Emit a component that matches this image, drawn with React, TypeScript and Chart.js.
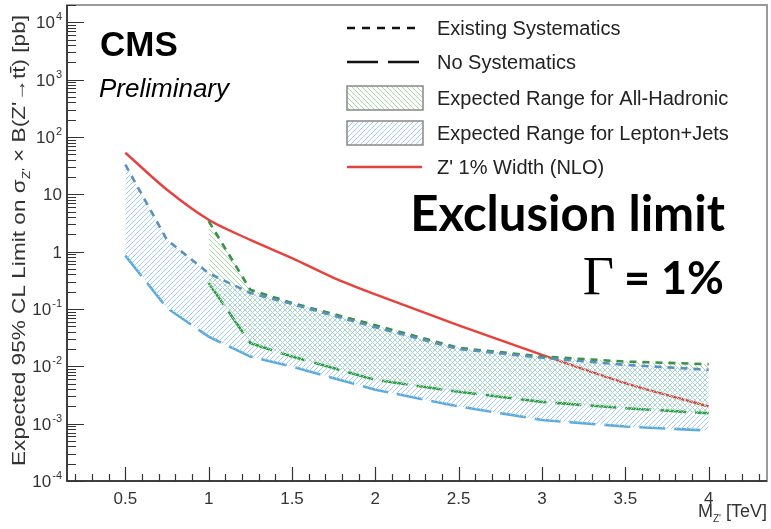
import { useEffect, useRef } from 'react';
import { Chart, registerables } from 'chart.js';
Chart.register(...registerables);

// ---- data ----
const massLJ = [0.5, 0.75, 1, 1.25, 1.5, 2, 2.5, 3, 3.5, 4];
const ljExisting = [33, 1.6, 0.42, 0.19, 0.122, 0.048, 0.020, 0.0141, 0.0106, 0.0087];
const ljNoSyst = [0.85, 0.104, 0.033, 0.0148, 0.0099, 0.0039, 0.0020, 0.00116, 0.00089, 0.00076];

const massAH = [1, 1.25, 1.5, 2, 2.5, 3, 3.5, 4];
const ahExisting = [3.4, 0.216, 0.127, 0.052, 0.021, 0.0148, 0.0121, 0.0109];
const ahNoSyst = [0.283, 0.0254, 0.0148, 0.0058, 0.0036, 0.0024, 0.00186, 0.00152];

const massZ = [0.5, 0.75, 1, 1.25, 1.5, 1.75, 2, 2.5, 3, 3.5, 4];
const zprimeXsec = [53, 12, 3.6, 1.6, 0.77, 0.35, 0.18, 0.052, 0.0159, 0.0051, 0.0020];

const yTickExponents = [-4, -3, -2, -1, 0, 1, 2, 3, 4];
const xTicks = [0.5, 1, 1.5, 2, 2.5, 3, 3.5, 4];
const xTickLabels = ['0.5', '1', '1.5', '2', '2.5', '3', '3.5', '4'];

const legendLabels = [
  'Existing Systematics',
  'No Systematics',
  'Expected Range for All-Hadronic',
  'Expected Range for Lepton+Jets',
  "Z' 1% Width (NLO)",
];

const SANS = "'Liberation Sans', Arial, sans-serif";

function hatch(color: string, dir: number) {
  const s = 5;
  const c = document.createElement('canvas');
  c.width = s; c.height = s;
  const g = c.getContext('2d')!;
  g.strokeStyle = color; g.lineWidth = 1;
  g.beginPath();
  if (dir > 0) {
    g.moveTo(0, s); g.lineTo(s, 0);
    g.moveTo(-1, 1); g.lineTo(1, -1);
    g.moveTo(s - 1, s + 1); g.lineTo(s + 1, s - 1);
  } else {
    g.moveTo(0, 0); g.lineTo(s, s);
    g.moveTo(s - 1, -1); g.lineTo(s + 1, 1);
    g.moveTo(-1, s - 1); g.lineTo(1, s + 1);
  }
  g.stroke();
  return g.createPattern(c, 'repeat')!;
}

const COL = {
  red: '#e8413c',
  blueShort: '#5b8fc0',
  blueLong: '#5aaade',
  greenShort: '#3a9048',
  greenLong: '#2e9f34',
  blueHatch: '#a6cfee',
  greenHatch: '#a8daa8',
};

export default function App() {
  const ref = useRef<HTMLCanvasElement>(null);
  useEffect(() => {
    const blueP = hatch(COL.blueHatch, 1);
    const greenP = hatch(COL.greenHatch, -1);

    const decor = {
      id: 'decor',
      afterDraw(chart: any) {
        const { ctx, chartArea: a, scales } = chart;
        const x = scales.x, y = scales.y;
        ctx.save();
        // frame
        ctx.strokeStyle = '#9a9a9a'; ctx.lineWidth = 2;
        ctx.strokeRect(a.left, a.top, a.right - a.left, a.bottom - a.top);
        ctx.strokeStyle = '#222'; ctx.lineWidth = 1.5;
        ctx.beginPath();
        ctx.moveTo(a.left, a.top); ctx.lineTo(a.left, a.bottom); ctx.lineTo(a.right, a.bottom);
        ctx.stroke();
        // y ticks
        ctx.lineWidth = 1.2; ctx.strokeStyle = '#333';
        ctx.beginPath();
        for (const d of yTickExponents) {
          const base = Math.pow(10, d);
          const py = Math.round(y.getPixelForValue(base)) + 0.5;
          ctx.moveTo(a.left, py); ctx.lineTo(a.left + 17, py);
          for (let m = 2; m <= 9; m++) {
            const v = m * base;
            if (v > y.max) break;
            const pm = Math.round(y.getPixelForValue(v)) + 0.5;
            ctx.moveTo(a.left, pm); ctx.lineTo(a.left + 9, pm);
          }
        }
        // x ticks
        for (let i = 2; i <= 43; i++) {
          const v = i / 10;
          const px = Math.round(x.getPixelForValue(v)) + 0.5;
          const len = i % 5 === 0 ? 14 : 7;
          ctx.moveTo(px, a.bottom); ctx.lineTo(px, a.bottom - len);
        }
        ctx.stroke();

        // y tick labels with superscripts
        ctx.fillStyle = '#333';
        ctx.textBaseline = 'alphabetic';
        ctx.textAlign = 'left';
        const rightEdge = 62;
        for (const d of yTickExponents) {
          const py = y.getPixelForValue(Math.pow(10, d));
          const baseTxt = d === 0 ? '1' : '10';
          const expTxt = d === 0 || d === 1 ? '' : String(d);
          ctx.font = `17px ${SANS}`;
          const wb = ctx.measureText(baseTxt).width;
          ctx.font = `11px ${SANS}`;
          const we = expTxt ? ctx.measureText(expTxt).width + 1 : 0;
          const x0 = rightEdge - wb - we;
          ctx.font = `17px ${SANS}`;
          ctx.fillText(baseTxt, x0, py + 6);
          if (expTxt) {
            ctx.font = `11px ${SANS}`;
            ctx.fillText(expTxt, x0 + wb + 1, py - 2);
          }
        }

        // y title (rotated)
        ctx.save();
        ctx.translate(25, 466);
        ctx.rotate(-Math.PI / 2);
        ctx.fillStyle = '#333';
        ctx.textBaseline = 'alphabetic';
        ctx.textAlign = 'left';
        const parts: [string, number, number][] = [
          ['Expected 95% CL Limit on \u03C3', 18, 0],
          ["Z'", 11, 5],
          [" \u00D7 B(Z'\u2192t", 18, 0],
          ['t', 18, 0],
          [') [pb]', 18, 0],
        ];
        let total = 0;
        for (const [t, s] of parts) { ctx.font = `${s}px ${SANS}`; total += ctx.measureText(t).width; }
        ctx.scale(451 / total, 1);
        let cx = 0;
        parts.forEach(([t, s, dy], i) => {
          ctx.font = `${s}px ${SANS}`;
          ctx.fillText(t, cx, dy);
          const w = ctx.measureText(t).width;
          if (i === 3) ctx.fillRect(cx, -15, w, 1.3);
          cx += w;
        });
        ctx.restore();

        // x title
        ctx.fillStyle = '#333';
        ctx.textBaseline = 'alphabetic';
        ctx.textAlign = 'left';
        ctx.font = `18px ${SANS}`;
        const w1 = ctx.measureText('M').width;
        const w3 = ctx.measureText(' [TeV]').width;
        ctx.font = `10px ${SANS}`;
        const w2 = ctx.measureText("Z'").width;
        let sx = 767 - (w1 + w2 + w3);
        ctx.font = `18px ${SANS}`;
        ctx.fillText('M', sx, 517); sx += w1;
        ctx.font = `10px ${SANS}`;
        ctx.fillText("Z'", sx, 522); sx += w2;
        ctx.font = `18px ${SANS}`;
        ctx.fillText(' [TeV]', sx, 517);

        // CMS labels
        ctx.fillStyle = '#000';
        ctx.font = `bold 35px ${SANS}`;
        ctx.fillText('CMS', 100, 56);
        ctx.font = `italic 26px ${SANS}`;
        ctx.fillText('Preliminary', 99, 97);

        // legend
        const rows = [28, 62, 98, 133, 167];
        const lx0 = 347, lx1 = 419, tx = 437;
        ctx.font = `20px ${SANS}`;
        ctx.fillStyle = '#222';
        ctx.textBaseline = 'middle';
        legendLabels.forEach((t, i) => ctx.fillText(t, tx, rows[i] + 1));
        ctx.lineWidth = 2.5;
        ctx.strokeStyle = '#111';
        ctx.setLineDash([8, 7]);
        ctx.beginPath(); ctx.moveTo(lx0, rows[0]); ctx.lineTo(lx1, rows[0]); ctx.stroke();
        ctx.setLineDash([31, 10]);
        ctx.beginPath(); ctx.moveTo(lx0, rows[1]); ctx.lineTo(lx1, rows[1]); ctx.stroke();
        ctx.setLineDash([]);
        const box = (yc: number, pat: CanvasPattern) => {
          ctx.fillStyle = '#fff';
          ctx.fillRect(lx0, yc - 12, lx1 + 4 - lx0, 24);
          ctx.fillStyle = pat;
          ctx.fillRect(lx0, yc - 12, lx1 + 4 - lx0, 24);
          ctx.strokeStyle = '#888'; ctx.lineWidth = 1.5;
          ctx.strokeRect(lx0, yc - 12, lx1 + 4 - lx0, 24);
        };
        box(rows[2], greenP);
        box(rows[3], blueP);
        ctx.strokeStyle = COL.red; ctx.lineWidth = 2.5;
        ctx.beginPath(); ctx.moveTo(lx0, rows[4]); ctx.lineTo(lx1 + 3, rows[4]); ctx.stroke();

        // annotation
        ctx.textBaseline = 'alphabetic';
        ctx.fillStyle = '#000';
        const bold = "Lato, 'Open Sans', sans-serif";
        ctx.font = `bold 42px ${bold}`;
        const wEx = ctx.measureText('Exclusion limit').width;
        const fs = 42 * 315 / wEx;
        ctx.font = `bold ${fs}px ${bold}`;
        ctx.textAlign = 'right';
        ctx.fillText('Exclusion limit', 725, 231);
        ctx.font = `bold 45px ${bold}`;
        const wEq = ctx.measureText('= 1%').width;
        ctx.fillText('= 1%', 724, 294);
        ctx.font = `54px 'Liberation Serif', 'DejaVu Serif', serif`;
        ctx.fillText('\u0393', 724 - wEq - 10, 294);
        ctx.restore();
      },
    };

    const pts = (xs: number[], ys: number[]) => xs.map((v, i) => ({ x: v, y: ys[i] }));

    const chart = new Chart(ref.current!, {
      type: 'line',
      data: {
        datasets: [
          {
            label: 'LJ existing', data: pts(massLJ, ljExisting), borderColor: COL.blueShort,
            borderDash: [7, 6], borderWidth: 2.6, pointRadius: 0, fill: '+1', backgroundColor: blueP, tension: 0,
          },
          {
            label: 'LJ no syst', data: pts(massLJ, ljNoSyst), borderColor: COL.blueLong,
            borderDash: [26, 9], borderWidth: 2.6, pointRadius: 0, fill: false, tension: 0,
          },
          {
            label: 'AH existing', data: pts(massAH, ahExisting), borderColor: COL.greenShort,
            borderDash: [7, 6], borderWidth: 2.6, pointRadius: 0, fill: '+1', backgroundColor: greenP, tension: 0,
          },
          {
            label: 'AH no syst', data: pts(massAH, ahNoSyst), borderColor: COL.greenLong,
            borderDash: [26, 9], borderWidth: 2.6, pointRadius: 0, fill: false, tension: 0,
          },
          {
            label: 'Zprime', data: pts(massZ, zprimeXsec), borderColor: COL.red,
            borderWidth: 2.4, pointRadius: 0, fill: false, tension: 0.3,
          },
        ],
      },
      options: {
        animation: false,
        responsive: false,
        maintainAspectRatio: false,
        layout: { padding: { top: 5, right: 4, left: 0, bottom: 0 } },
        plugins: { legend: { display: false }, tooltip: { enabled: false } },
        scales: {
          x: {
            type: 'linear', min: 0.15, max: 4.35,
            grid: { display: false, drawTicks: false }, border: { display: false },
            afterBuildTicks: (s: any) => { s.ticks = xTicks.map((v) => ({ value: v })); },
            afterFit: (s: any) => { s.height = 48; },
            ticks: {
              autoSkip: false, maxRotation: 0, padding: 8, color: '#333',
              font: { size: 17, family: SANS },
              callback: (_v: any, i: number) => xTickLabels[i],
            },
          },
          y: {
            type: 'logarithmic', min: 1e-4, max: 2e4,
            grid: { display: false }, border: { display: false },
            afterFit: (s: any) => { s.width = 67; },
            ticks: { display: false },
          },
        },
      },
      plugins: [decor],
    });
    return () => chart.destroy();
  }, []);

  return (
    <div style={{ position: 'fixed', left: 0, top: 0, width: 771, height: 529, background: '#fff' }}>
      <canvas ref={ref} width={771} height={529} style={{ width: 771, height: 529, display: 'block' }} />
    </div>
  );
}
